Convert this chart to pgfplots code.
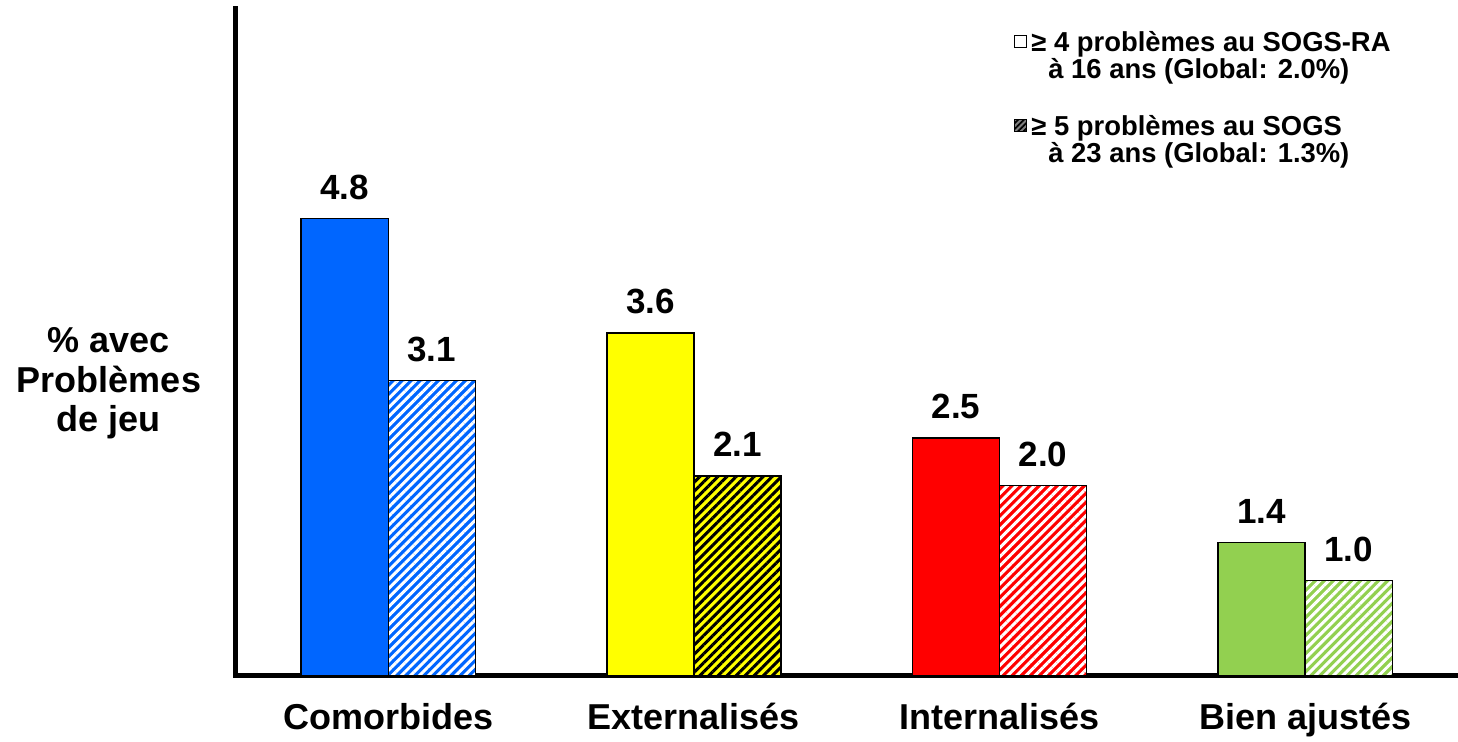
\documentclass[border=0pt]{standalone}
\usepackage{pgfplots}
\pgfplotsset{compat=1.18}
\usepackage{fontspec}
\setmainfont{Liberation Sans}
\usetikzlibrary{patterns.meta}
\definecolor{cblue}{HTML}{0066FF}
\definecolor{cyellow}{HTML}{FFFF00}
\definecolor{cred}{HTML}{FF0000}
\definecolor{cgreen}{HTML}{92D050}
\pgfplotsset{
  vlab/.style={
    nodes near coords={\pgfmathprintnumber[fixed,fixed zerofill,precision=1,assume math mode=true]{\pgfplotspointmeta}},
    every node near coord/.append style={anchor=base, yshift=9.5pt, inner sep=0pt, font=\bfseries\fontsize{17.5}{20}\selectfont, text=black},
  },
  hatch/.style={pattern={Lines[angle=45,distance=3.2pt,line width=1.5pt]}, pattern color=#1},
}
\begin{document}
\begin{tikzpicture}
\useasboundingbox (0,0) rectangle (729pt,371pt);
\begin{axis}[
  at={(117.75pt,33pt)}, anchor=south west,
  scale only axis, width=611.25pt, height=333.5pt,
  xmin=-0.5, xmax=3.5, ymin=0, ymax=7.0,
  axis x line=bottom, axis y line=left,
  axis line style={-, line width=2.5pt, line cap=rect},
  ytick=\empty,
  xtick={0,1,2,3},
  xticklabels={Comorbides, Externalisés, Internalisés, Bien ajustés},
  major tick length=0pt,
  xticklabel style={anchor=base, yshift=-27pt, font=\bfseries\fontsize{18}{20}\selectfont},
  ybar, bar width=0.285,
  clip=false,
]
% first measure (age 16)
\addplot[vlab, bar shift=-0.1425, fill=cblue, draw=black, line width=0.75pt] coordinates {(0,4.8)};
\addplot[vlab, bar shift=-0.1425, fill=cyellow, draw=black, line width=0.75pt] coordinates {(1,3.6)};
\addplot[vlab, bar shift=-0.1425, fill=cred, draw=black, line width=0.75pt] coordinates {(2,2.5)};
\addplot[vlab, bar shift=-0.1425, fill=cgreen, draw=black, line width=0.75pt] coordinates {(3,1.4)};
% second measure (age 23): colour fill, then stripes with border
\addplot[bar shift=0.1425, fill=cblue, draw=none] coordinates {(0,3.1)};
\addplot[vlab, bar shift=0.1425, hatch=white, draw=black, line width=0.75pt] coordinates {(0,3.1)};
\addplot[bar shift=0.1425, fill=cyellow, draw=none] coordinates {(1,2.1)};
\addplot[vlab, bar shift=0.1425, hatch=black, draw=black, line width=0.75pt] coordinates {(1,2.1)};
\addplot[bar shift=0.1425, fill=cred, draw=none] coordinates {(2,2.0)};
\addplot[vlab, bar shift=0.1425, hatch=white, draw=black, line width=0.75pt] coordinates {(2,2.0)};
\addplot[bar shift=0.1425, fill=cgreen, draw=none] coordinates {(3,1.0)};
\addplot[vlab, bar shift=0.1425, hatch=white, draw=black, line width=0.75pt] coordinates {(3,1.0)};
\end{axis}
\begin{scope}[x=0.5pt,y=0.5pt]
  % y label
  \node[anchor=base, inner sep=0pt, font=\bfseries\fontsize{18}{20}\selectfont] at (109,389) {\% avec};
  \node[anchor=base, inner sep=0pt, font=\bfseries\fontsize{18}{20}\selectfont] at (109,349) {Problèmes};
  \node[anchor=base, inner sep=0pt, font=\bfseries\fontsize{18}{20}\selectfont] at (109,310) {de jeu};
  % legend
  \draw[fill=white, line width=0.5pt] (1014,694) rectangle (1026,706);
  \fill[gray] (1014,610) rectangle (1026,622);
  \fill[pattern={Lines[angle=45,distance=2pt,line width=0.9pt]}, pattern color=black] (1014,610) rectangle (1026,622);
  \draw[line width=0.5pt] (1014,610) rectangle (1026,622);
  \node[anchor=base west, inner sep=0pt, font=\bfseries\fontsize{13.7}{16}\selectfont] at (1031,690) {≥ 4 problèmes au SOGS-RA};
  \node[anchor=base west, inner sep=0pt, font=\bfseries\fontsize{13.7}{16}\selectfont] at (1048,663) {à 16 ans (Global: 2.0\%)};
  \node[anchor=base west, inner sep=0pt, font=\bfseries\fontsize{13.7}{16}\selectfont] at (1031,606) {≥ 5 problèmes au SOGS};
  \node[anchor=base west, inner sep=0pt, font=\bfseries\fontsize{13.7}{16}\selectfont] at (1048,579) {à 23 ans (Global: 1.3\%)};
\end{scope}
\end{tikzpicture}
\end{document}
